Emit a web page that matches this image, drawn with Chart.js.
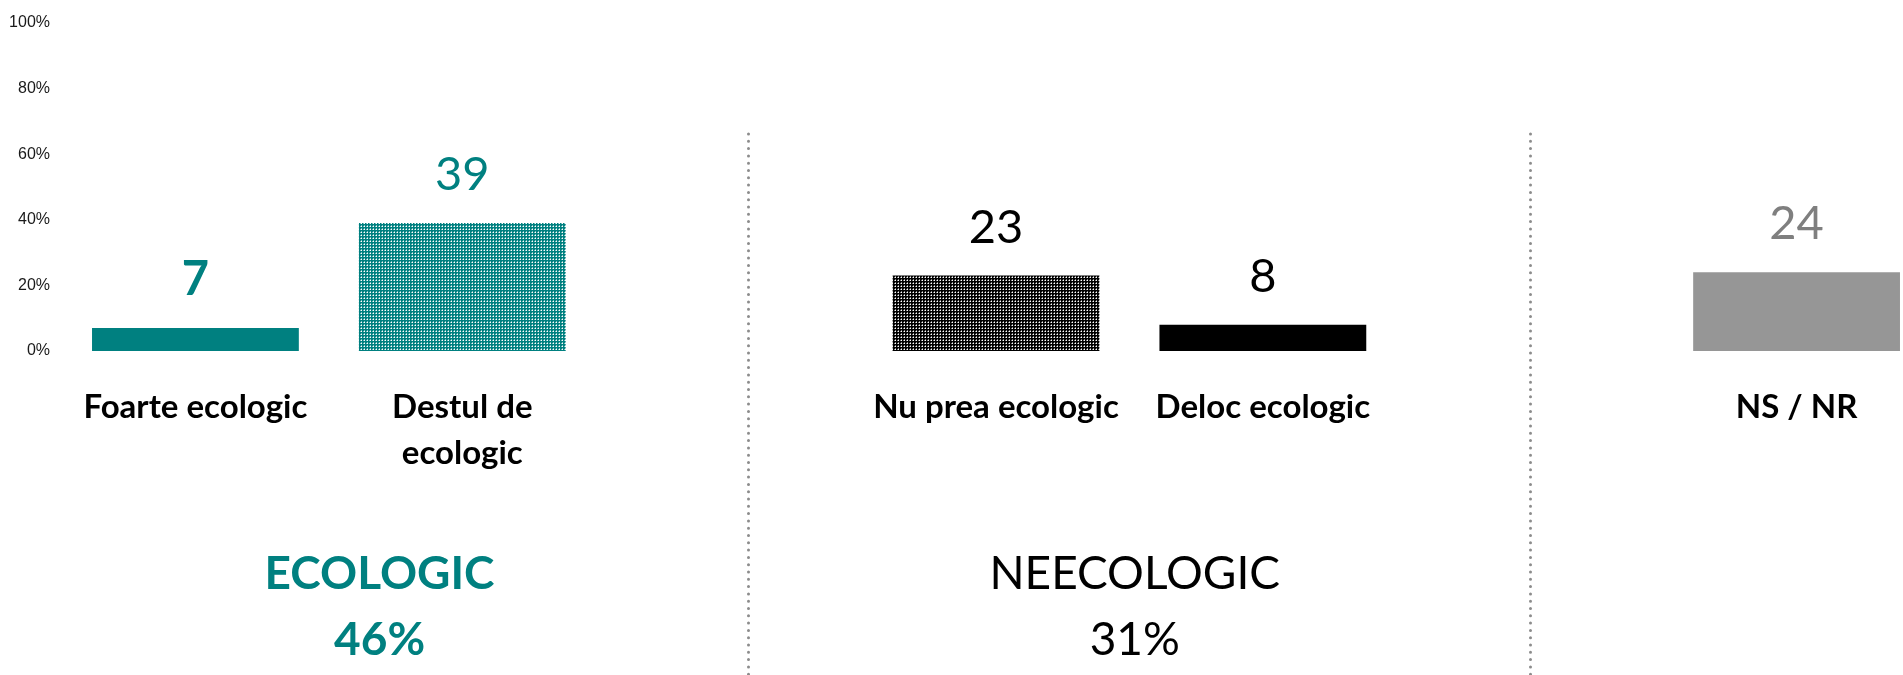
<!DOCTYPE html>
<html>
<head>
<meta charset="utf-8">
<title>Ecologic</title>
<script src="https://cdn.jsdelivr.net/npm/chart.js@4"></script>
<style>
  html, body { margin: 0; padding: 0; background: #fff; overflow: hidden; }
  #wrap { width: 1930px; height: 675px; position: relative; }
</style>
</head>
<body>
<div id="wrap"><canvas id="chart"></canvas></div>
<script>
// answers, with two empty slots used as spacers between the groups
const categories = [["Foarte ecologic"], ["Destul de", "ecologic"], "", ["Nu prea ecologic"], ["Deloc ecologic"], "", ["NS / NR"]];
const values = [7, 39, null, 23, 8, null, 24];
const yTicks = [0, 20, 40, 60, 80, 100];
const groupNames = ["ECOLOGIC", "NEECOLOGIC"];
const groupTotals = [46, 31];

const TEAL = "#008080";
const GREY = "#969696";

const canvas = document.getElementById("chart");
const ctx = canvas.getContext("2d");

// small 3x3 tile: solid base with a light dot, repeated over the bar
function dotPattern(base, mid, dot) {
  const c = document.createElement("canvas");
  c.width = 3; c.height = 3;
  const g = c.getContext("2d");
  g.fillStyle = base; g.fillRect(0, 0, 3, 3);
  g.fillStyle = mid; g.fillRect(1, 0, 1, 1); g.fillRect(0, 1, 1, 1);
  g.fillStyle = dot; g.fillRect(1, 1, 1, 1);
  return ctx.createPattern(c, "repeat");
}

const barColors = [TEAL, dotPattern(TEAL, "#7fbfbf", "#ffffff"), null,
                   dotPattern("#000000", "#808080", "#ffffff"), "#000000", null, GREY];
const labelColors = [TEAL, TEAL, null, "#000", "#000", null, "#7f7f7f"];

// numbers above the bars
const barLabels = {
  id: "barLabels",
  afterDatasetsDraw(chart) {
    const c = chart.ctx;
    const meta = chart.getDatasetMeta(0);
    c.save();
    c.textAlign = "center";
    c.textBaseline = "alphabetic";
    meta.data.forEach((bar, i) => {
      const v = values[i];
      if (v == null) return;
      c.font = (i === 0 ? "bold " : "") + "47px Lato";
      c.fillStyle = labelColors[i];
      c.fillText(String(v), bar.x, bar.y - 33);
    });
    c.restore();
  }
};

// dotted separators and the group totals underneath
const groups = {
  id: "groups",
  afterDraw(chart) {
    const c = chart.ctx;
    const x = chart.scales.x;
    c.save();
    c.strokeStyle = "#8c8c8c";
    c.lineWidth = 3;
    c.lineCap = "round";
    c.setLineDash([0, 7.3]);
    [2.07, 5.0].forEach(p => {
      const px = Math.round(x.getPixelForValue(p)) + 0.5;
      c.beginPath();
      c.moveTo(px, 134);
      c.lineTo(px, chart.height);
      c.stroke();
    });
    c.setLineDash([]);

    c.textAlign = "center";
    c.textBaseline = "alphabetic";
    const spots = [0.69, 3.52];
    const styles = [{ font: "bold 46px Lato", color: TEAL }, { font: "46px Lato", color: "#000" }];
    groupNames.forEach((name, i) => {
      const px = x.getPixelForValue(spots[i]);
      c.font = styles[i].font;
      c.fillStyle = styles[i].color;
      c.fillText(name, px, 589);
      c.fillText(groupTotals[i] + "%", px, 655);
    });
    c.restore();
  }
};

function draw() {
  new Chart(canvas, {
    type: "bar",
    data: {
      labels: categories,
      datasets: [{
        data: values,
        backgroundColor: barColors,
        borderWidth: 0,
        categoryPercentage: 1,
        barPercentage: 0.775
      }]
    },
    options: {
      responsive: true,
      maintainAspectRatio: false,
      animation: false,
      layout: { autoPadding: false, padding: { left: 9, top: 23, right: 0, bottom: 166 } },
      plugins: { legend: { display: false }, tooltip: { enabled: false } },
      scales: {
        x: {
          grid: { display: false, drawTicks: false },
          border: { display: false },
          ticks: {
            color: "#000",
            font: { family: "Lato", weight: "bold", size: 33, lineHeight: 46 / 33 },
            padding: 33,
            maxRotation: 0,
            autoSkip: false
          }
        },
        y: {
          min: 0,
          max: 100,
          afterBuildTicks(axis) { axis.ticks = yTicks.map(v => ({ value: v })); },
          afterFit(axis) { axis.width = 53; },
          grid: { display: false, drawTicks: false },
          border: { display: false },
          ticks: {
            color: "#1a1a1a",
            font: { family: "Liberation Sans", size: 16 },
            padding: 12,
            callback: v => v + "%"
          }
        }
      }
    },
    plugins: [barLabels, groups]
  });
}

Promise.all([
  document.fonts.load("bold 33px Lato"),
  document.fonts.load("47px Lato"),
  document.fonts.load("16px 'Liberation Sans'")
]).then(draw, draw);
</script>
</body>
</html>
